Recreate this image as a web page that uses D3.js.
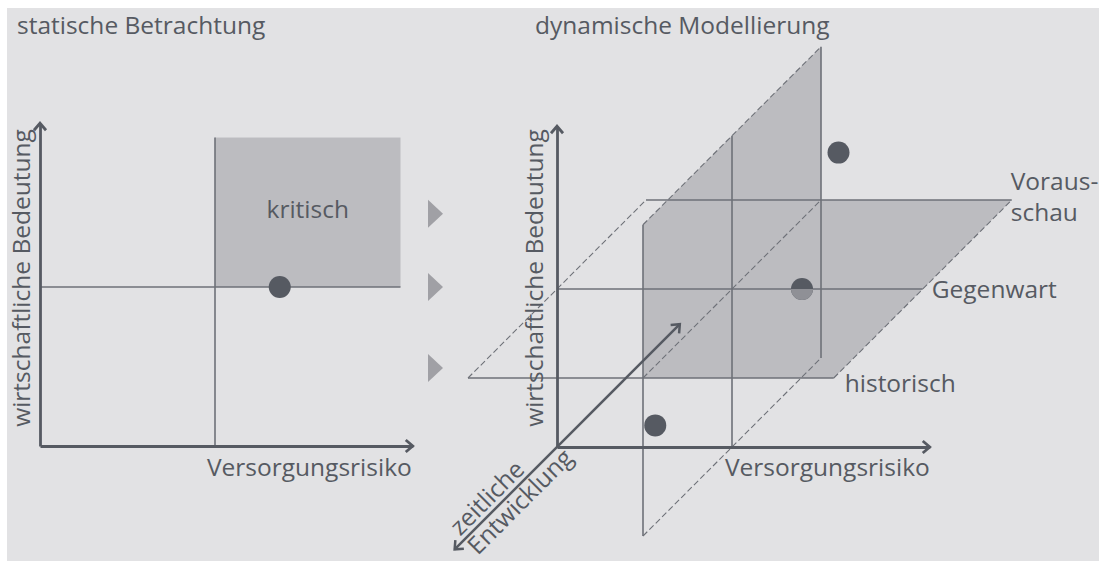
<!DOCTYPE html>
<html><head><meta charset="utf-8">
<script src="https://cdn.jsdelivr.net/npm/d3@7"></script>
<style>
body{margin:0;background:#fff}
svg text{font-family:"Open Sans",sans-serif;fill:#565a62;font-size:24.5px}
</style>
</head><body>
<svg id="chart" width="1099" height="561"></svg>
<script>
// ---------- data ----------
const panelTitles = ["statische Betrachtung", "dynamische Modellierung"];
const xAxisLabel = "Versorgungsrisiko";
const yAxisLabel = "wirtschaftliche Bedeutung";
const timeAxisLabels = ["zeitliche", "Entwicklung"];
const criticalLabel = "kritisch";
const thresholdX = 1, thresholdY = 1;
const staticGridMax = [2.06, 1.94];
const dynamicGridMax = [2.09, 1.97];
const axisMax = [2.13, 2.03];
const timeSlices = ["historisch", "Gegenwart", "Voraus-|schau"];
const timeValues = [-1, 0, 1];
const timeAxisRange = [-1.15, 1.38];
const staticPointX = [1.37];
const staticPointY = [1.0];
const dynamicPointX = [1.07, 1.40, 1.10];
const dynamicPointY = [0.70, 1.00, 1.30];
const dynamicPointT = [-1, 0, 1];
const transitionLevels = [1.46, 1.0, 0.49];

// ---------- setup ----------
const svg = d3.select("#chart");
const dark = "#565a62", thin = "#6e7178", fillC = "#bcbcc0";
svg.append("rect").attr("x", 7).attr("y", 8).attr("width", 1092).attr("height", 553).attr("fill", "#e2e2e4");

// left panel scales
const xL = d3.scaleLinear().domain([0, 1]).range([40, 215]);
const yL = d3.scaleLinear().domain([0, 1]).range([446, 287]);
// right panel scales (oblique projection)
const xR = d3.scaleLinear().domain([0, 1]).range([557, 732]);
const yR = d3.scaleLinear().domain([0, 1]).range([447, 289]);
const tR = d3.scaleLinear().domain([-1, 1]).range([-89, 89]);
const P = (x, y, t) => [xR(x) + tR(t), yR(y) - tR(t)];
const line = d3.line();

function chevron(g, tip, angle, sw) {
  g.append("path")
    .attr("d", "M-7,-6L0,0L-7,6")
    .attr("transform", `translate(${tip[0]},${tip[1]}) rotate(${angle})`)
    .attr("fill", "none").attr("stroke", dark).attr("stroke-width", sw)
    .attr("stroke-linejoin", "miter");
}
function axisLines(g, xs, ys, ox, oy) {
  const xa = xs.copy().domain([0, axisMax[0]]).range([xs(0), xs(axisMax[0])]);
  const ya = ys.copy().domain([0, axisMax[1]]).range([ys(0), ys(axisMax[1])]);
  const gx = g.append("g").attr("transform", `translate(0,${oy})`)
    .call(d3.axisBottom(xa).tickValues([]).tickSizeOuter(0));
  const gy = g.append("g").attr("transform", `translate(${ox},0)`)
    .call(d3.axisLeft(ya).tickValues([]).tickSizeOuter(0));
  [gx, gy].forEach(a => a.select(".domain").attr("stroke", dark).attr("stroke-width", 2.8));
  chevron(g, [xa(axisMax[0]), oy], 0, 2.8);
  chevron(g, [ox, ya(axisMax[1])], -90, 2.8);
}

// ---------- left panel ----------
const L = svg.append("g");
L.append("rect")
  .attr("x", xL(thresholdX)).attr("y", yL(staticGridMax[1]))
  .attr("width", xL(staticGridMax[0]) - xL(thresholdX))
  .attr("height", yL(thresholdY) - yL(staticGridMax[1]))
  .attr("fill", fillC);
L.append("path").attr("d", line([[xL(0), yL(thresholdY)], [xL(staticGridMax[0]), yL(thresholdY)]]))
  .attr("stroke", thin).attr("stroke-width", 1.6);
L.append("path").attr("d", line([[xL(thresholdX), yL(0)], [xL(thresholdX), yL(staticGridMax[1])]]))
  .attr("stroke", thin).attr("stroke-width", 1.6);
axisLines(L, xL, yL, xL(0), yL(0));
L.selectAll("circle.s").data(staticPointX).join("circle")
  .attr("cx", d => xL(d)).attr("cy", (d, i) => yL(staticPointY[i])).attr("r", 11).attr("fill", dark);
L.append("text").attr("x", (xL(thresholdX) + xL(staticGridMax[0])) / 2).attr("y", 218)
  .attr("text-anchor", "middle").text(criticalLabel);
L.append("text").attr("x", 17).attr("y", 34).text(panelTitles[0]);
L.append("text").attr("x", xL(axisMax[0]) - 1).attr("y", 476).attr("text-anchor", "end").text(xAxisLabel);
L.append("text").attr("transform", `translate(30,278) rotate(-90)`).attr("text-anchor", "middle").text(yAxisLabel);

// transition triangles
svg.selectAll("path.tri").data(transitionLevels).join("path")
  .attr("d", d => { const y = yL(d); return `M428,${y - 14}L443,${y}L428,${y + 14}Z`; })
  .attr("fill", "#a0a0a5");

// ---------- right panel ----------
const R = svg.append("g");
const gx = dynamicGridMax[0], gy = dynamicGridMax[1];
R.append("path").attr("d", line([
  P(thresholdX, thresholdY, -1), P(gx, thresholdY, -1), P(gx, thresholdY, 1),
  P(thresholdX, thresholdY, 1), P(thresholdX, gy, 1), P(thresholdX, gy, -1)]) + "Z")
  .attr("fill", fillC);

const solid = [
  [P(0, thresholdY, -1), P(gx, thresholdY, -1)],
  [P(0, thresholdY, 1), P(gx, thresholdY, 1)],
  [P(0, thresholdY, 0), P(gx, thresholdY, 0)],
  [P(thresholdX, 0, -1), P(thresholdX, gy, -1)],
  [P(thresholdX, 0, 1), P(thresholdX, gy, 1)],
  [P(thresholdX, 0, 0), P(thresholdX, gy, 0)]
];
const dashed = [
  [P(0, thresholdY, -1), P(0, thresholdY, 1)],
  [P(gx, thresholdY, -1), P(gx, thresholdY, 1)],
  [P(thresholdX, 0, -1), P(thresholdX, 0, 1)],
  [P(thresholdX, gy, -1), P(thresholdX, gy, 1)],
  [P(thresholdX, thresholdY, -1), P(thresholdX, thresholdY, 1)]
];
R.selectAll("path.solid").data(solid).join("path").attr("class", "solid")
  .attr("d", d => line(d)).attr("stroke", thin).attr("stroke-width", 1.6).attr("fill", "none");
R.selectAll("path.dash").data(dashed).join("path").attr("class", "dash")
  .attr("d", d => line(d)).attr("stroke", thin).attr("stroke-width", 1.1)
  .attr("stroke-dasharray", "6,3").attr("fill", "none");

axisLines(R, xR, yR, xR(0), yR(0));
// time axis
const t0 = P(0, 0, timeAxisRange[0]), t1 = P(0, 0, timeAxisRange[1]);
R.append("path").attr("d", line([t0, t1])).attr("stroke", dark).attr("stroke-width", 2.5);
chevron(R, t1, -45, 2.5);
chevron(R, t0, 135, 2.5);

// dots
const dots = dynamicPointX.map((x, i) => ({ p: P(x, dynamicPointY[i], dynamicPointT[i]), t: dynamicPointT[i] }));
R.selectAll("circle.d").data(dots).join("circle")
  .attr("cx", d => d.p[0]).attr("cy", d => d.p[1]).attr("r", 11).attr("fill", dark);
R.selectAll("path.half").data(dots.filter(d => d.t === 0)).join("path")
  .attr("d", d => `M${d.p[0] - 11},${d.p[1]}A11,11 0 0 0 ${d.p[0] + 11},${d.p[1]}Z`)
  .attr("fill", "#8f9096");

// texts
R.append("text").attr("x", 535).attr("y", 34).text(panelTitles[1]);
R.append("text").attr("x", xR(axisMax[0])).attr("y", 476).attr("text-anchor", "end").text(xAxisLabel);
R.append("text").attr("transform", `translate(543,278) rotate(-90)`).attr("text-anchor", "middle").text(yAxisLabel);

// time slice labels
const hist = P(gx, thresholdY, timeValues[0]);
R.append("text").attr("x", hist[0] + 11).attr("y", hist[1] + 14).text(timeSlices[0]);
const now = P(gx, thresholdY, timeValues[1]);
R.append("text").attr("x", now[0] + 9).attr("y", now[1] + 9).text(timeSlices[1]);
const fut = P(gx, thresholdY, timeValues[2]);
const ft = R.append("text").attr("x", fut[0]).attr("y", fut[1] - 10);
timeSlices[2].split("|").forEach((s, i) => ft.append("tspan").attr("x", fut[0] - 1).attr("dy", i ? 31 : 0).text(s));

// time axis labels along the diagonal
const O = P(0, 0, 0);
const along = (s, n) => [O[0] + s * 0.7071 - n * 0.7071, O[1] - s * 0.7071 - n * 0.7071];
const z = along(-132, 5);
R.append("text").attr("transform", `translate(${z[0]},${z[1]}) rotate(-45)`).text(timeAxisLabels[0]);
const e = along(-133, -21);
R.append("text").attr("transform", `translate(${e[0]},${e[1]}) rotate(-45)`).text(timeAxisLabels[1]);
</script>
</body></html>
